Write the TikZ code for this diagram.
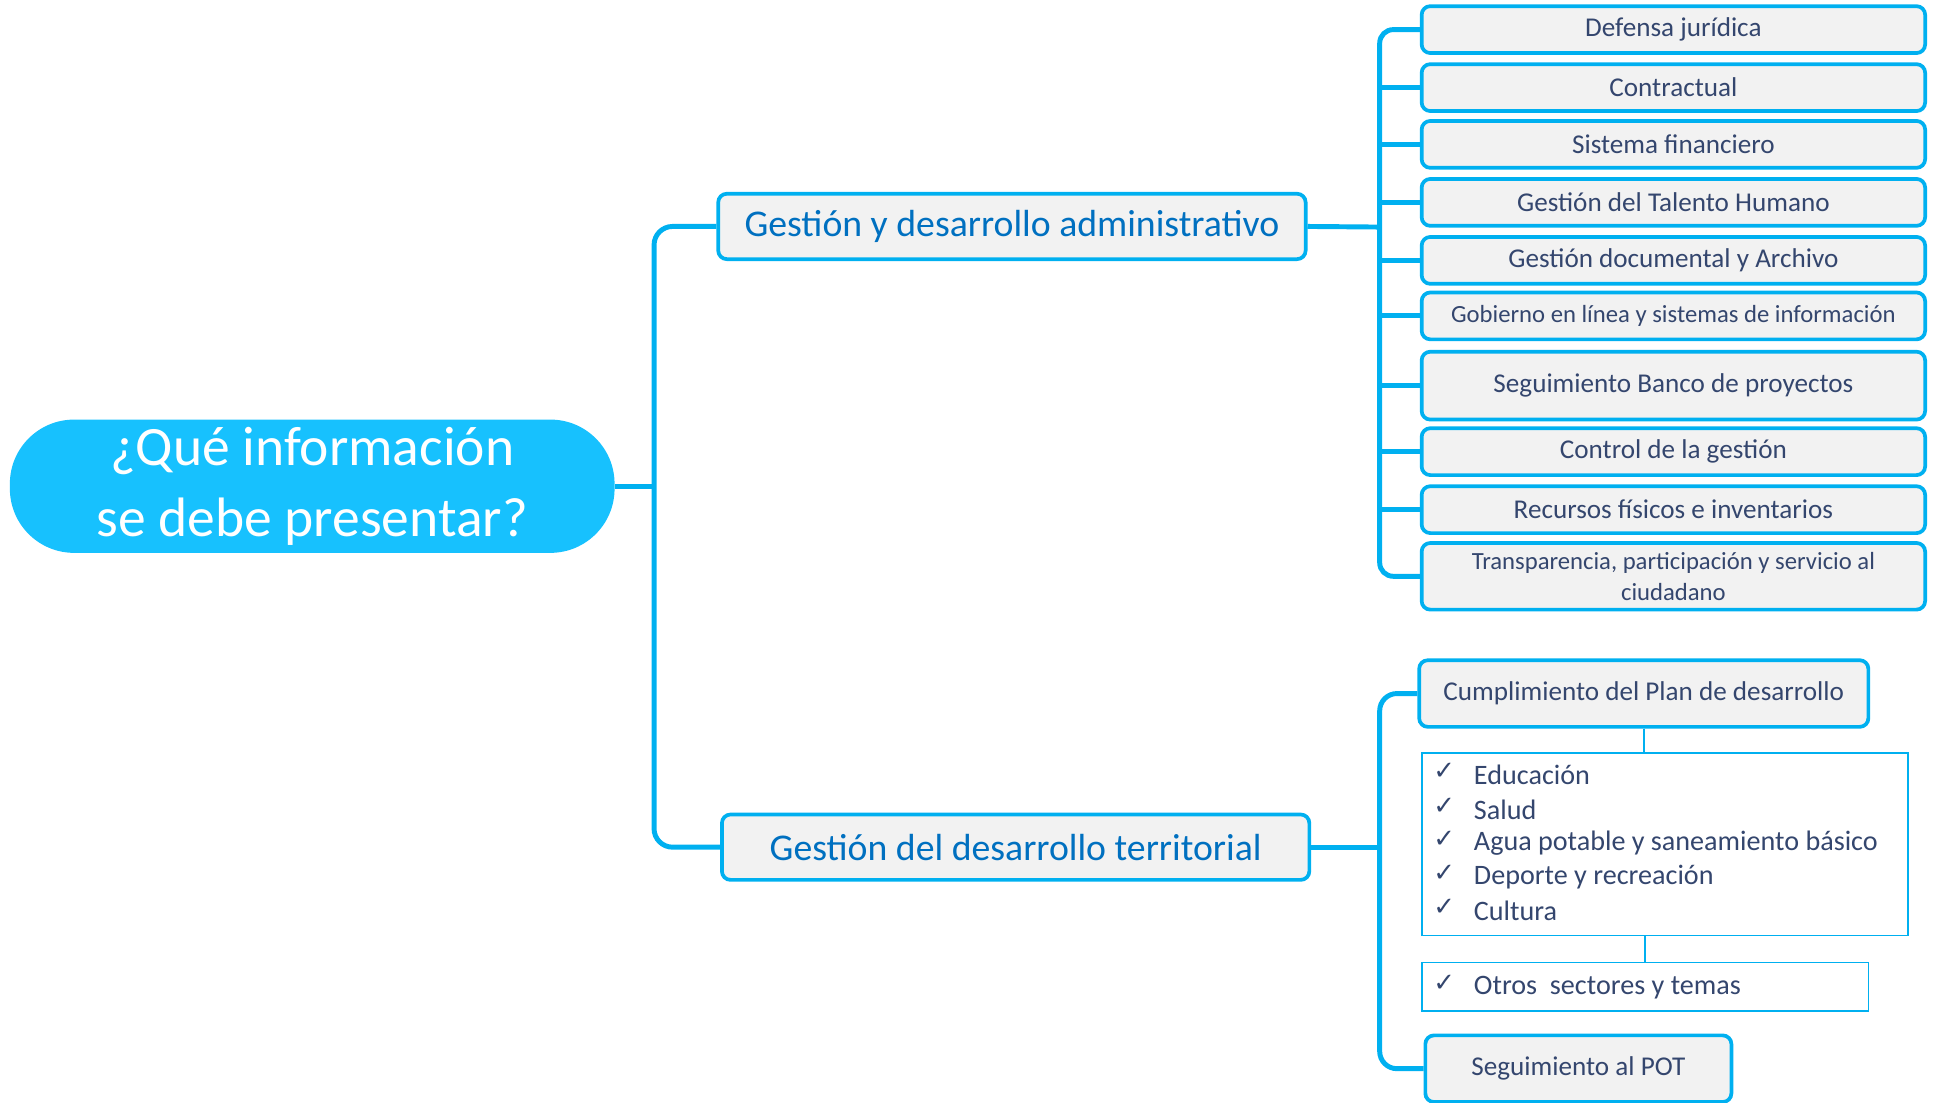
\documentclass[tikz,border=0pt]{standalone}
\usepackage{fontspec}
\setmainfont{Carlito}
\newfontfamily\dejavu{DejaVu Sans}
\definecolor{cyanline}{HTML}{00B0F0}
\definecolor{rootfill}{HTML}{17C1FE}
\definecolor{boxfill}{HTML}{F2F2F2}
\definecolor{maintext}{HTML}{0070C0}
\definecolor{itemtext}{HTML}{34466E}
\begin{document}
\begin{tikzpicture}[x=0.5pt,y=-0.5pt,
  rootbox/.style={draw=none,fill=rootfill,rounded corners=26pt,minimum width=245pt,minimum height=54pt,
    text=white,font=\fontsize{22.5}{29}\selectfont,align=center,inner sep=0pt},
  mainbox/.style={draw=cyanline,line width=1.5pt,fill=boxfill,rounded corners=3.5pt,minimum width=238pt,
    minimum height=26.5pt,text=maintext,font=\fontsize{15.3}{17}\selectfont,inner sep=0pt},
  itembox/.style={draw=cyanline,line width=1.5pt,fill=boxfill,rounded corners=3.5pt,minimum width=204pt,
    minimum height=19pt,text=itemtext,font=\fontsize{11}{13}\selectfont,inner sep=0pt,align=center},
  thinbox/.style={draw=cyanline,line width=0.7pt,fill=white,inner sep=0pt},
  listtext/.style={anchor=west,text=itemtext,font=\fontsize{11.4}{13}\selectfont,inner sep=0pt},
  checkmk/.style={anchor=west,text=itemtext,font=\dejavu\fontsize{10.5}{12}\selectfont,inner sep=0pt},
  trunk/.style={draw=cyanline,line width=2pt},
  thinline/.style={draw=cyanline,line width=0.8pt}
]
\useasboundingbox (0,0) rectangle (1568,893);

% root
\node[rootbox] (root) at (253,394) {¿Qué información\\se debe presentar?};

% main boxes
\node[mainbox] (adm) at (820,183.5) {Gestión y desarrollo administrativo};
\node[mainbox] (ter) at (823,686.5) {Gestión del desarrollo territorial};

\coordinate (t1) at (530,394);
\draw[trunk] (root.east) -- (t1);
\draw[trunk,rounded corners=7.5pt] (adm.west) -| (t1) |- (ter.west);

% administrative items
\node[itembox] (i1) at (1356,24) {Defensa jurídica};
\node[itembox] (i2) at (1356,71) {Contractual};
\node[itembox] (i3) at (1356,117) {Sistema financiero};
\node[itembox] (i4) at (1356,164) {Gestión del Talento Humano};
\node[itembox] (i5) at (1356,211) {Gestión documental y Archivo};
\node[itembox,font=\fontsize{10}{12}\selectfont] (i6) at (1356,256) {Gobierno en línea y sistemas de información};
\node[itembox,minimum height=27.5pt] (i7) at (1356,312.5) {Seguimiento Banco de proyectos};
\node[itembox] (i8) at (1356,366) {Control de la gestión};
\node[itembox] (i9) at (1356,413) {Recursos físicos e inventarios};
\node[itembox,minimum height=27pt,font=\fontsize{10}{12.5}\selectfont] (i10) at (1356,467) {Transparencia, participación y servicio al\\ciudadano};

\coordinate (t2) at (1118,184);
\draw[trunk] (adm.east) -- (t2);
\draw[trunk,rounded corners=5.5pt] (i1.west) -| (t2) |- (i10.west);
\foreach \n in {i2,i3,i4,i5,i6,i7,i8,i9}
  \draw[trunk] (t2 |- \n.west) -- (\n.west);

% territorial items
\node[itembox,minimum width=182pt,minimum height=27pt] (cump) at (1332,562) {Cumplimiento del Plan de desarrollo};
\node[thinbox,minimum width=197pt,minimum height=74pt] (list) at (1349,684) {};
\node[thinbox,minimum width=181pt,minimum height=19.5pt] (otros) at (1333,799.5) {};
\node[itembox,minimum width=124pt,minimum height=27pt] (pot) at (1279,866) {Seguimiento al POT};

\node[checkmk] (c1) at (1161,625) {✓};
\node[listtext] (l1) at (1194,628) {Educación};
\node[checkmk] (c2) at (1161,653) {✓};
\node[listtext] (l2) at (1194,656) {Salud};
\node[checkmk] (c3) at (1161,680) {✓};
\node[listtext] (l3) at (1194,683) {Agua potable y saneamiento básico};
\node[checkmk] (c4) at (1161,708) {✓};
\node[listtext] (l4) at (1194,711) {Deporte y recreación};
\node[checkmk] (c5) at (1161,735) {✓};
\node[listtext] (l5) at (1194,738) {Cultura};
\node[checkmk] (c6) at (1161,797) {✓};
\node[listtext] (l6) at (1194,800) {Otros \ sectores y temas};

\coordinate (t3) at (1118,686.5);
\draw[trunk] (ter.east) -- (t3);
\draw[trunk,rounded corners=7pt] (cump.west) -| (t3) |- (pot.west);
\draw[thinline] (cump.south) -- (cump.south |- list.north);
\draw[thinline] (otros.north) -- (otros.north |- list.south);
\end{tikzpicture}
\end{document}
